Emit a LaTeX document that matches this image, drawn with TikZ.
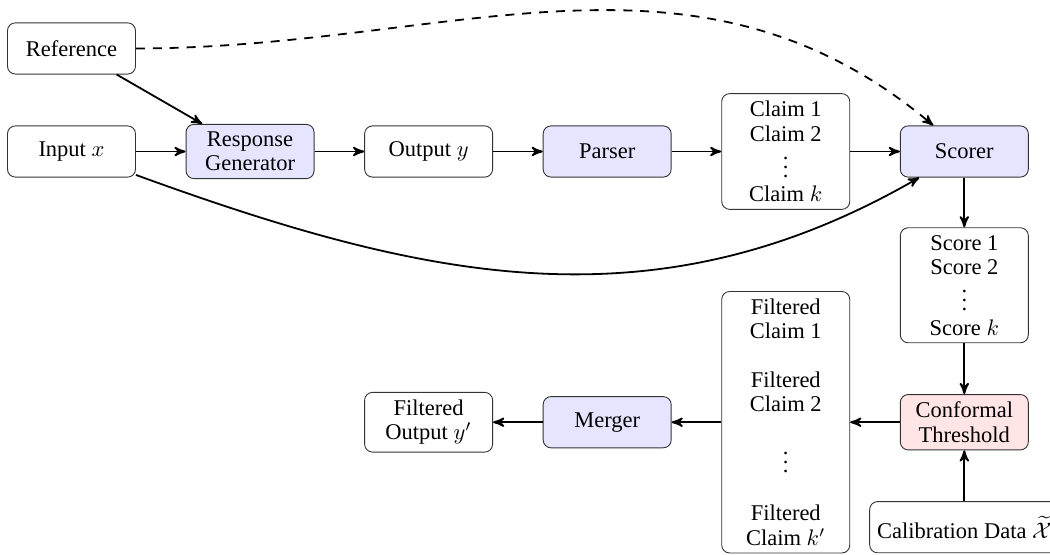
\documentclass[tikz,border=0pt]{standalone}
\usepackage{fontspec}
\setmainfont{Liberation Serif}
\usetikzlibrary{arrows}

\begin{document}
\begin{tikzpicture}[
    box/.style={draw=black!80, thin, rounded corners=3.5pt, minimum width=2cm,
      minimum height=0.8cm, align=center,
      font=\fontsize{10pt}{10.8pt}\selectfont},
    module/.style={box, fill=blue!10},
    conformal/.style={box, fill=red!10},
    >=stealth', thick]
   \useasboundingbox (-1.117,2.367) rectangle (15.289,-6.289);

   \draw (0,1.61) node[box] (reference) {Reference};
   \draw (0,0) node[box] (input) {Input $x$};
   \draw (2.79,0) node[module] (generator) {Response\\Generator};
   \draw (5.58,0) node[box] (output) {Output $y$};
   \draw (8.37,0) node[module] (parser) {Parser};
   \draw (11.16,0) node[box] (claims) {Claim 1\\Claim 2\\\vdots\\Claim $k$};
   \draw (13.95,0) node[module] (scorer) {Scorer};
   \draw (13.95,-2.09) node[box] (scores) {Score 1\\Score 2\\\vdots\\Score $k$};
   \draw (13.95,-4.23) node[conformal] (threshold) {Conformal\\Threshold};
   \draw (13.95,-5.87) node[box] (calibration) {Calibration Data $\widetilde{\mathcal{X}}$};
   \draw (11.16,-4.23) node[box] (filtered) {Filtered\\Claim 1\\[10.8pt]Filtered\\Claim 2\\[10.8pt]\vdots\\[10.8pt]Filtered\\Claim $k'$};
   \draw (8.37,-4.23) node[module] (merger) {Merger};
   \draw (5.58,-4.23) node[box] (final) {Filtered\\Output $y'$};

   \path[->] (reference) edge (generator);
   \path[->] (input) edge (generator);
   \path[->] (generator) edge (output);
   \path[->] (output) edge (parser);
   \path[->] (parser) edge (claims);
   \path[->] (claims) edge (scorer);
   \path[->] (scorer) edge (scores);
   \path[->] (scores) edge (threshold);
   \path[->] (calibration) edge (threshold);
   \path[->] (threshold) edge (filtered);
   \path[->] (filtered) edge (merger);
   \path[->] (merger) edge (final);
   \path[->, dashed, dash pattern=on 4pt off 3.5pt] (reference) edge[out=0, in=140] (scorer);
   \path[->] (input) edge[out=-20, in=210] (scorer);
\end{tikzpicture}
\end{document}
